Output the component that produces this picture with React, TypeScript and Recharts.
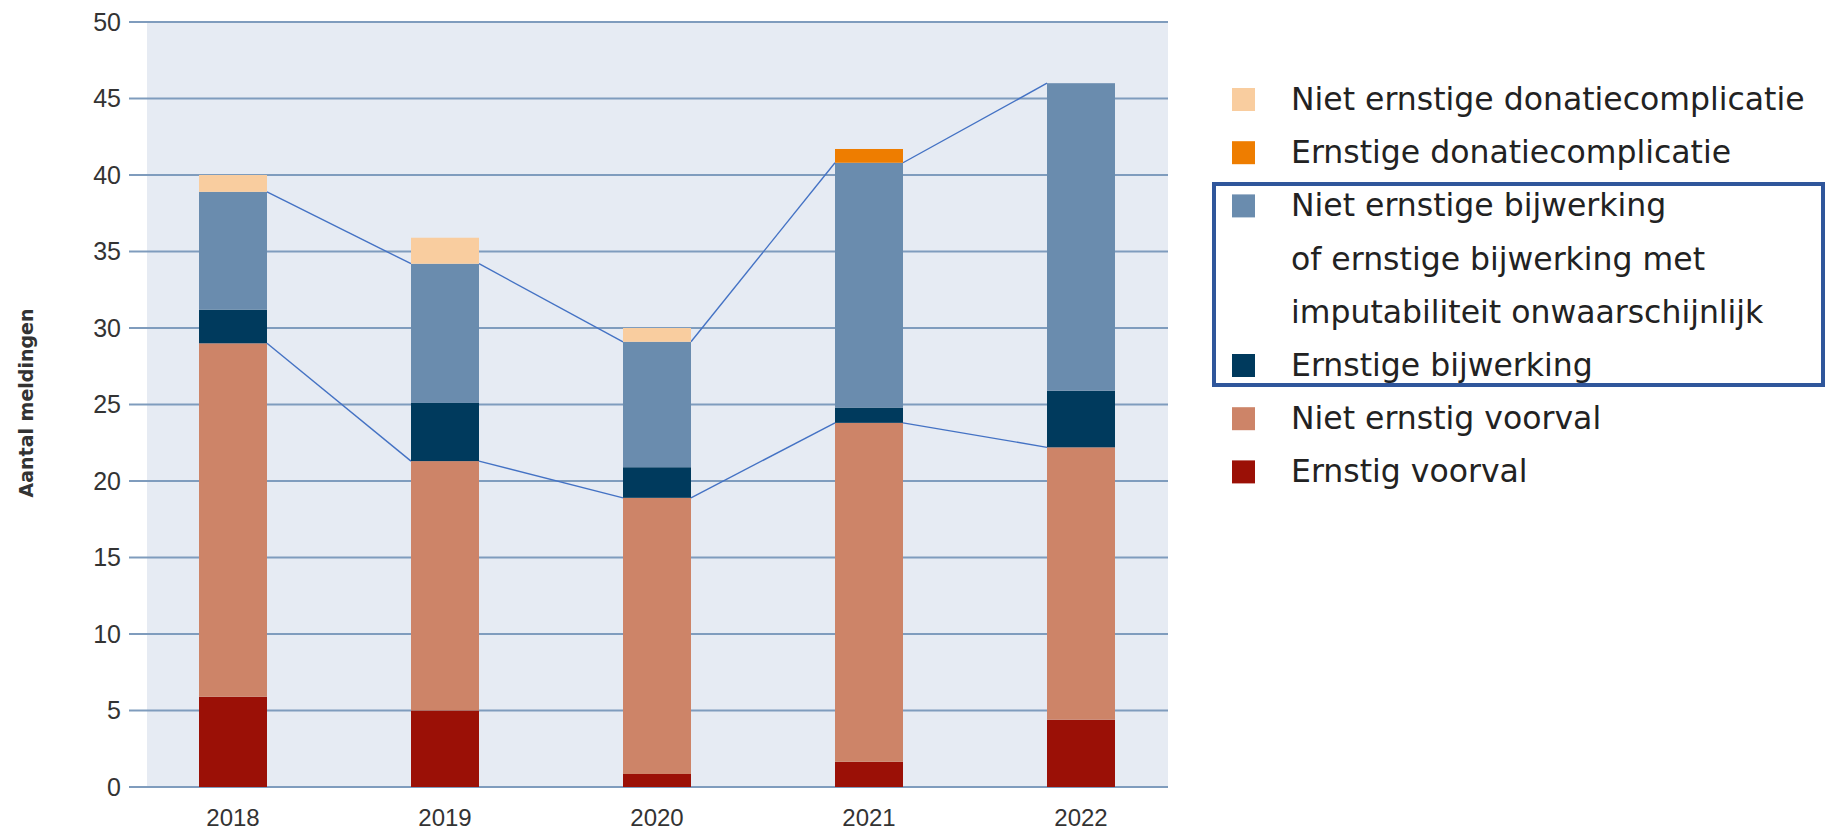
import React from 'react';
import { BarChart, Bar, XAxis, YAxis, CartesianGrid } from 'recharts';

const years = ['2018', '2019', '2020', '2021', '2022'];
const ernstigVoorval = [5.9, 5.0, 0.85, 1.65, 4.4];
const nietErnstigVoorval = [23.1, 16.3, 18.05, 22.15, 17.8];
const ernstigeBijwerking = [2.2, 3.8, 2.0, 1.0, 3.7];
const nietErnstigeBijwerking = [7.7, 9.1, 8.2, 16.0, 20.1];
const ernstigeDonatie = [0, 0, 0, 0.9, 0];
const nietErnstigeDonatie = [1.1, 1.7, 0.9, 0, 0];
const yTicks = [0, 5, 10, 15, 20, 25, 30, 35, 40, 45, 50];

const legendLabels: string[][] = [
  ['Niet ernstige donatiecomplicatie'],
  ['Ernstige donatiecomplicatie'],
  ['Niet ernstige bijwerking', 'of ernstige bijwerking met', 'imputabiliteit onwaarschijnlijk'],
  ['Ernstige bijwerking'],
  ['Niet ernstig voorval'],
  ['Ernstig voorval'],
];
const legendColors = ['#f9cd9f', '#ee7d00', '#6a8cae', '#003a5d', '#cd8468', '#9b1006'];

const data = years.map((year, i) => ({
  year,
  ev: ernstigVoorval[i],
  nev: nietErnstigVoorval[i],
  eb: ernstigeBijwerking[i],
  neb: nietErnstigeBijwerking[i],
  edc: ernstigeDonatie[i],
  nedc: nietErnstigeDonatie[i],
}));

const FONT = "'Liberation Sans Narrow', 'Liberation Sans', Arial, sans-serif";
const GRID = '#7f9cbd';
const LINK = '#4472c4';

const tops: Record<string, Array<{ l: number; r: number; y: number }>> = {};

const makeShape = (key: string, fill: string, link: boolean) => (props: any) => {
  const { x, y, width, height, index } = props;
  if (!height || height <= 0) return <g />;
  let seg = null;
  if (link) {
    const arr = tops[key] || (tops[key] = []);
    arr[index] = { l: x, r: x + width, y };
    const prev = index > 0 ? arr[index - 1] : undefined;
    if (prev) {
      seg = <line x1={prev.r} y1={prev.y} x2={x} y2={y} stroke={LINK} strokeWidth={1.4} />;
    }
  }
  return (
    <g>
      <rect x={x} y={y} width={width} height={height} fill={fill} />
      {seg}
    </g>
  );
};

const YTitle = () => (
  <text
    x={33}
    y={403}
    transform="rotate(-90 33 403)"
    textAnchor="middle"
    fontFamily="'DejaVu Sans', sans-serif"
    fontWeight="bold"
    fontSize={19}
    fill="#333"
  >
    Aantal meldingen
  </text>
);

function LegendOverlay() {
  const rowStart = 110;
  const rowStep = 53.2;
  let row = 0;
  const items: React.ReactNode[] = [];
  legendLabels.forEach((lines, i) => {
    const baseY = rowStart + row * rowStep;
    items.push(
      <rect key={'s' + i} x={1232} y={baseY - 22} width={23} height={23} fill={legendColors[i]} />
    );
    lines.forEach((ln, j) => {
      items.push(
        <text
          key={'t' + i + '-' + j}
          x={1291}
          y={baseY + j * rowStep}
          fontFamily="'DejaVu Sans', sans-serif"
          fontSize={31.5}
          fill="#222"
        >
          {ln}
        </text>
      );
    });
    row += lines.length;
  });
  return (
    <svg
      width={1837}
      height={832}
      style={{ position: 'absolute', left: 0, top: 0, pointerEvents: 'none' }}
    >
      {items}
      <rect x={1214} y={184} width={609} height={201} fill="none" stroke="#2f569b" strokeWidth={4} />
    </svg>
  );
}

export default function App() {
  return (
    <div style={{ position: 'absolute', left: 0, top: 0, width: 1837, height: 832, background: '#fff' }}>
      <BarChart
        width={1837}
        height={832}
        data={data}
        margin={{ top: 22, right: 669, bottom: 0, left: 0 }}
        barCategoryGap={0}
      >
        <CartesianGrid vertical={false} fill="#e6ebf3" stroke={GRID} strokeWidth={2} />
        <XAxis
          dataKey="year"
          height={45}
          axisLine={false}
          tickLine={false}
          tickSize={0}
          tickMargin={22}
          padding={{ left: -20, right: -19 }}
          tick={{ fontSize: 24, fill: '#333', fontFamily: FONT }}
        />
        <YAxis
          width={147}
          domain={[0, 50]}
          ticks={yTicks}
          interval={0}
          axisLine={false}
          tickSize={18}
          tickMargin={8}
          tickLine={{ stroke: GRID, strokeWidth: 2 }}
          tick={{ fontSize: 25, fill: '#333', fontFamily: FONT }}
          label={<YTitle />}
        />
        <Bar dataKey="ev" stackId="a" barSize={68} fill="#9b1006" isAnimationActive={false} shape={makeShape('ev', '#9b1006', false)} />
        <Bar dataKey="nev" stackId="a" barSize={68} fill="#cd8468" isAnimationActive={false} shape={makeShape('nev', '#cd8468', true)} />
        <Bar dataKey="eb" stackId="a" barSize={68} fill="#003a5d" isAnimationActive={false} shape={makeShape('eb', '#003a5d', false)} />
        <Bar dataKey="neb" stackId="a" barSize={68} fill="#6a8cae" isAnimationActive={false} shape={makeShape('neb', '#6a8cae', true)} />
        <Bar dataKey="edc" stackId="a" barSize={68} fill="#ee7d00" isAnimationActive={false} shape={makeShape('edc', '#ee7d00', false)} />
        <Bar dataKey="nedc" stackId="a" barSize={68} fill="#f9cd9f" isAnimationActive={false} shape={makeShape('nedc', '#f9cd9f', false)} />
      </BarChart>
      <LegendOverlay />
    </div>
  );
}
